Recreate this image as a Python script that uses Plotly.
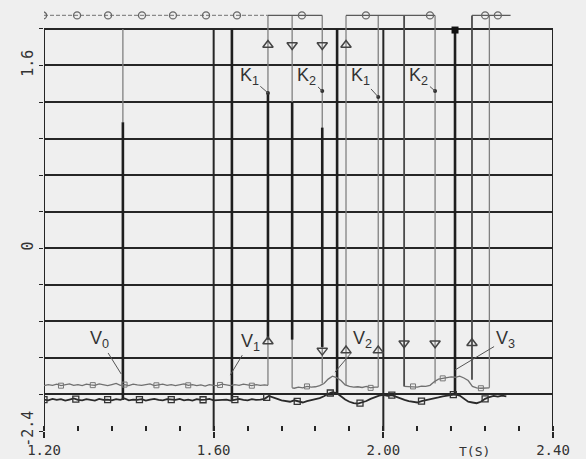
import numpy as np
import plotly.graph_objects as go

# ---------------- data ----------------
x_tick_vals = [1.20, 1.60, 2.00, 2.40]
x_tick_text = ["1.20", "1.60", "2.00", "2.40"]
y_tick_vals = [0, 5, 10]
y_tick_text = ["-2.4", "0", "1.6"]

# lower analog trace (square markers)
low_t = np.round(np.arange(1.20, 2.295, 0.01), 3)
low_v = [0.86,0.84,0.88,0.85,0.87,0.83,0.86,0.89,0.85,0.84,0.87,0.86,0.83,0.88,0.85,0.86,0.84,0.87,0.85,0.89,
         0.84,0.86,0.85,0.87,0.83,0.86,0.88,0.85,0.84,0.87,0.86,0.85,0.88,0.84,0.86,0.83,0.87,0.85,0.86,0.88,
         0.84,0.85,0.87,0.86,0.83,0.86,0.88,0.85,0.84,0.87,0.85,0.86,0.88,
         0.96,0.93,0.88,0.84,0.82,0.80,0.84,
         0.80,0.78,0.82,0.85,0.86,0.90,0.95,1.02,1.06,1.04,
         0.95,0.86,0.80,0.76,0.75,0.78,0.82,0.88,0.93,0.97,
         0.99,0.96,0.98,0.93,0.88,0.85,0.82,0.80,0.78,0.82,
         0.84,0.86,0.90,0.92,0.95,0.97,0.99,1.00,0.97,0.88,
         0.80,0.78,0.76,0.80,0.88,0.93,0.96,0.94,0.97,0.95]
low_marker_t = [1.20, 1.275, 1.35, 1.425, 1.50, 1.575, 1.65, 1.725, 1.797, 1.875, 1.945, 2.02, 2.09, 2.165, 2.24]

# upper analog trace (three pieces)
up1_t = list(np.round(np.arange(1.20, 1.725, 0.01), 3)) + [1.728]
up1_v = [1.24,1.27,1.25,1.28,1.24,1.26,1.29,1.25,1.27,1.24,1.28,1.26,1.25,1.29,1.26,1.24,1.27,1.30,1.25,1.27,
         1.24,1.28,1.26,1.25,1.27,1.29,1.24,1.26,1.28,1.25,1.27,1.24,1.26,1.29,1.25,1.27,1.24,1.26,1.23,1.27,
         1.25,1.24,1.28,1.26,1.24,1.27,1.25,1.28,1.26,1.24,1.27,1.25,1.26,1.25]
up2_t = [1.785,1.79,1.80,1.81,1.82,1.83,1.84,1.85,1.86,1.87,1.88,1.89,1.90,1.91,1.92,1.93,1.94,1.95,1.96,1.97,1.98,1.988]
up2_v = [1.18,1.17,1.20,1.18,1.22,1.20,1.21,1.24,1.30,1.42,1.50,1.46,1.38,1.26,1.22,1.20,1.21,1.19,1.22,1.18,1.20,1.20]
up3_t = [2.049,2.05,2.06,2.07,2.08,2.09,2.10,2.11,2.12,2.13,2.14,2.15,2.16,2.17,2.18,2.19,2.20,2.21,2.22,2.23,2.24,2.25]
up3_v = [1.22,1.22,1.20,1.22,1.20,1.23,1.22,1.25,1.35,1.42,1.44,1.45,1.48,1.47,1.50,1.45,1.38,1.22,1.18,1.17,1.18,1.18]
up_marker_t = [1.24, 1.315, 1.39, 1.465, 1.54, 1.615, 1.69, 1.82, 1.97, 2.07, 2.14, 2.23]

# status line at the top
top_level = 11.37
top_dashed_t = [1.20, 1.728]
top_circle_t = [1.198, 1.278, 1.351, 1.431, 1.504, 1.582, 1.655, 1.808, 1.959, 2.11, 2.24, 2.27]
top_solid_segments = [(1.728, 1.856), (1.912, 2.122), (2.209, 2.30)]
top_square = (2.169, 10.97)

# switching events: (time, top, bottom)
thin_events = [(1.386, 11.0, 8.45), (1.728, 11.37, 1.25), (1.785, 11.37, 1.18), (1.856, 11.37, 1.30),
               (1.912, 11.37, 1.26), (1.988, 11.37, 1.20), (2.122, 11.37, 1.30), (2.250, 11.37, 1.18)]
medium_events = [(2.049, 11.37, 1.22), (2.209, 11.37, 1.40)]
thick_events = [(1.386, 8.45, 0.85), (1.643, 11.0, 0.85), (1.728, 9.25, 2.5), (1.785, 9.0, 2.5),
                (1.856, 8.3, 2.3), (1.891, 11.0, 1.0), (2.169, 10.97, 0.98)]
grid_x = [1.20, 1.60, 2.00, 2.40]
grid_top = 11.0

tri_up = [(1.728, 10.56), (1.912, 10.56), (1.728, 2.45), (1.912, 2.2), (1.988, 2.2), (2.209, 2.4)]
tri_down = [(1.785, 10.56), (1.856, 10.56), (1.856, 2.2), (2.049, 2.4), (2.122, 2.4)]
k_dots = [(1.728, 9.25), (1.856, 9.3), (1.988, 9.14), (2.122, 9.3)]

# labels: (text, text_t, text_u, tip_t, tip_u)
labels = [("K<sub>1</sub>", 1.684, 9.69, 1.728, 9.25),
          ("K<sub>2</sub>", 1.820, 9.71, 1.856, 9.30),
          ("K<sub>1</sub>", 1.945, 9.69, 1.988, 9.14),
          ("K<sub>2</sub>", 2.084, 9.69, 2.122, 9.30),
          ("V<sub>0</sub>", 1.332, 2.49, 1.382, 1.56),
          ("V<sub>1</sub>", 1.686, 2.43, 1.639, 1.53),
          ("V<sub>2</sub>", 1.950, 2.49, 1.886, 1.61),
          ("V<sub>3</sub>", 2.287, 2.49, 2.169, 1.67)]

# ---------------- figure ----------------
BG = "#efefef"
DARK = "#262626"


def seg_xy(items):
    xs, ys = [], []
    for t, a, b in items:
        xs += [t, t, None]
        ys += [a, b, None]
    return xs, ys


fig = go.Figure()

# vertical grid / frame lines
gx, gy = seg_xy([(g, 0, grid_top) for g in grid_x])
fig.add_trace(go.Scatter(x=gx, y=gy, mode="lines", line=dict(color=DARK, width=2), hoverinfo="skip"))

# event lines
for items, col, w in [(thin_events, "#808080", 1.3), (medium_events, "#4a4a4a", 1.8), (thick_events, "#1e1e1e", 2.6)]:
    ex, ey = seg_xy(items)
    fig.add_trace(go.Scatter(x=ex, y=ey, mode="lines", line=dict(color=col, width=w), hoverinfo="skip"))

# top status line
fig.add_trace(go.Scatter(x=top_dashed_t, y=[top_level] * 2, mode="lines",
                         line=dict(color="#8a8a8a", width=1.3, dash="4px,2px"), hoverinfo="skip"))
sx, sy = [], []
for a, b in top_solid_segments:
    sx += [a, b, None]
    sy += [top_level, top_level, None]
fig.add_trace(go.Scatter(x=sx, y=sy, mode="lines", line=dict(color="#5a5a5a", width=1.4), hoverinfo="skip"))
fig.add_trace(go.Scatter(x=top_circle_t, y=[top_level] * len(top_circle_t), mode="markers",
                         marker=dict(symbol="circle-open", size=7, color="#666", line=dict(width=1.3)),
                         hoverinfo="skip"))
fig.add_trace(go.Scatter(x=[top_square[0]], y=[top_square[1]], mode="markers",
                         marker=dict(symbol="square", size=7, color="#111"), hoverinfo="skip"))

# upper analog trace
ux = up1_t + [None] + up2_t + [None] + up3_t
uy = up1_v + [None] + up2_v + [None] + up3_v
fig.add_trace(go.Scatter(x=ux, y=uy, mode="lines", line=dict(color="#707070", width=1.3), hoverinfo="skip"))
all_ut = up1_t + up2_t + up3_t
all_uv = up1_v + up2_v + up3_v
fig.add_trace(go.Scatter(x=up_marker_t, y=np.interp(up_marker_t, all_ut, all_uv), mode="markers",
                         marker=dict(symbol="square-open", size=5, color="#777", line=dict(width=1)),
                         hoverinfo="skip"))

# lower analog trace
fig.add_trace(go.Scatter(x=low_t, y=low_v, mode="lines", line=dict(color="#2a2a2a", width=1.8), hoverinfo="skip"))
fig.add_trace(go.Scatter(x=low_marker_t, y=np.interp(low_marker_t, low_t, low_v), mode="markers",
                         marker=dict(symbol="square-open", size=6, color="#333", line=dict(width=1.3)),
                         hoverinfo="skip"))

# triangles and dots
fig.add_trace(go.Scatter(x=[p[0] for p in tri_up], y=[p[1] for p in tri_up], mode="markers",
                         marker=dict(symbol="triangle-up-open", size=9, color="#444", line=dict(width=1.5)),
                         hoverinfo="skip"))
fig.add_trace(go.Scatter(x=[p[0] for p in tri_down], y=[p[1] for p in tri_down], mode="markers",
                         marker=dict(symbol="triangle-down-open", size=9, color="#444", line=dict(width=1.5)),
                         hoverinfo="skip"))
fig.add_trace(go.Scatter(x=[p[0] for p in k_dots], y=[p[1] for p in k_dots], mode="markers",
                         marker=dict(symbol="circle", size=4, color="#333"), hoverinfo="skip"))

for text, tx, ty, px, py in labels:
    fig.add_annotation(x=px, y=py, ax=tx, ay=ty, axref="x", ayref="y", xref="x", yref="y",
                       text=text, showarrow=True, arrowhead=0, arrowwidth=1, arrowcolor="#555",
                       standoff=0, startstandoff=0,
                       font=dict(family="Liberation Sans, Arial", size=18, color="#333"))

fig.add_annotation(x=2.216, y=0, xref="x", yref="y", yshift=-20, text="T(S)", showarrow=False,
                   font=dict(family="DejaVu Sans Mono, monospace", size=13, color="#333"))

fig.update_layout(
    width=586, height=459,
    margin=dict(l=44, r=33, t=5, b=28, autoexpand=False),
    paper_bgcolor=BG, plot_bgcolor=BG,
    showlegend=False,
    font=dict(family="DejaVu Sans Mono, monospace", size=14, color="#333"),
)
fig.update_xaxes(range=[1.2, 2.4], showgrid=False, zeroline=False, showline=False, automargin=False,
                 tickvals=x_tick_vals, ticktext=x_tick_text, ticks="outside", ticklen=6,
                 tickcolor=DARK, tickwidth=2,
                 minor=dict(tick0=1.2, dtick=0.08, ticks="inside", ticklen=5, tickcolor=DARK, tickwidth=1.5),
                 tickfont=dict(size=14))
fig.update_yaxes(range=[0, 11.655], showgrid=True, gridcolor=DARK, gridwidth=2, zeroline=False, automargin=False,
                 showline=False, tickvals=y_tick_vals, ticktext=y_tick_text, tickangle=-90,
                 ticks="outside", ticklen=4, tickcolor=DARK,
                 minor=dict(tick0=0, dtick=1, showgrid=True, gridcolor=DARK, gridwidth=2,
                            ticks="outside", ticklen=4, tickcolor=DARK),
                 tickfont=dict(size=15))

fig.write_html("out.html", config={"displayModeBar": False},
               post_script="document.body.style.margin='0px';document.body.style.background='#efefef';")
